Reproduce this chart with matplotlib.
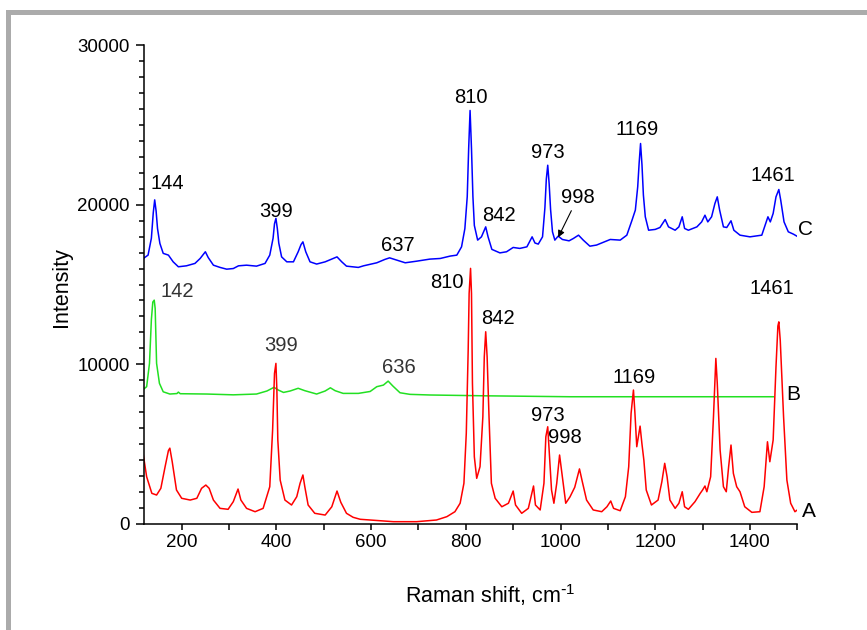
import matplotlib
matplotlib.use('Agg')
import matplotlib.pyplot as plt
from matplotlib.patches import Rectangle
from matplotlib.ticker import MultipleLocator

plt.rcParams['font.family'] = ['Liberation Sans', 'DejaVu Sans']
plt.rcParams['mathtext.default'] = 'regular'

# Spectrum C (blue): Raman shift / intensity
c_shift = [119, 129, 136, 140, 143, 146, 149, 154, 161, 172, 182, 193, 210, 228, 239, 250, 256,
           267, 281, 295, 309, 320, 337, 358, 376, 386, 393, 396, 399, 402, 405, 411, 422, 436,
           446, 452, 456, 462, 471, 485, 503, 517, 528, 538, 548, 573, 584, 612, 629, 639, 654,
           672, 696, 724, 746, 767, 781, 791, 798, 803, 806, 809, 812, 815, 818, 825, 833, 842,
           847, 855, 872, 886, 900, 914, 929, 940, 946, 953, 962, 967, 970, 973, 976, 979, 983,
           988, 995, 1004, 1018, 1027, 1038, 1048, 1062, 1076, 1105, 1126, 1140, 1151, 1158,
           1163, 1166, 1169, 1172, 1175, 1179, 1186, 1200, 1210, 1221, 1228, 1242, 1250, 1257,
           1262, 1270, 1288, 1298, 1305, 1311, 1319, 1326, 1331, 1336, 1344, 1351, 1360, 1366,
           1379, 1400, 1425, 1432, 1438, 1443, 1449, 1455, 1461, 1465, 1472, 1481, 1492, 1499]
c_int = [16630, 16840, 17900, 19500, 20300, 19600, 18500, 17570, 16950, 16840, 16420, 16110,
         16170, 16320, 16630, 17050, 16690, 16210, 16070, 15960, 16000, 16170, 16210, 16150,
         16320, 16840, 17900, 18800, 19140, 18500, 17600, 16730, 16420, 16420, 17050, 17500,
         17670, 17050, 16420, 16280, 16420, 16590, 16730, 16420, 16150, 16070, 16170, 16360,
         16570, 16670, 16530, 16360, 16460, 16590, 16630, 16780, 16840, 17360, 18500, 20500,
         23500, 25900, 23500, 20500, 18700, 17780, 17985, 18610, 17985, 17200, 16980, 17050,
         17320, 17260, 17360, 17985, 17600, 17530, 17985, 19800, 21600, 22470, 21300, 19700,
         18300, 17780, 18030, 17820, 17735, 17880, 18090, 17780, 17400, 17470, 17820, 17780,
         18090, 19030, 19660, 21120, 22600, 23830, 22500, 20600, 19240, 18400, 18450, 18570,
         19070, 18610, 18400, 18610, 19240, 18510, 18400, 18610, 18920, 19340, 18920, 19240,
         20070, 20490, 19660, 18610, 18570, 18990, 18400, 18090, 17985, 18090, 18720, 19240,
         18920, 19450, 20490, 20950, 20280, 18920, 18300, 18150, 18030]

# Spectrum B (green)
b_shift = [119, 126, 132, 136, 139, 142, 144, 147, 153, 161, 175, 190, 193, 197, 253, 309, 358,
           380, 395, 404, 415, 429, 446, 460, 485, 503, 514, 524, 541, 573, 598, 612, 626, 636,
           646, 661, 682, 724, 837, 1020, 1450]
b_int = [8430, 8600, 10060, 12800, 13900, 14020, 13500, 10060, 8810, 8280, 8140, 8170, 8260,
         8160, 8140, 8090, 8140, 8330, 8560, 8390, 8240, 8330, 8500, 8350, 8140, 8330, 8530,
         8350, 8180, 8180, 8300, 8600, 8700, 8950, 8640, 8220, 8120, 8080, 8030, 7970, 7970]

# Spectrum A (red)
a_shift = [119, 126, 137, 147, 156, 165, 172, 175, 180, 189, 200, 218, 232, 242, 251, 258, 267,
           281, 298, 309, 319, 325, 337, 355, 372, 386, 392, 396, 399, 401, 403, 408, 418, 432,
           443, 450, 456, 460, 467, 481, 503, 517, 528, 536, 548, 562, 577, 598, 647, 696, 738,
           760, 777, 788, 796, 801, 805, 807, 810, 812, 814, 818, 823, 830, 836, 839, 842, 845,
           849, 854, 862, 876, 890, 900, 905, 918, 932, 943, 947, 957, 965, 969, 973, 976, 981,
           986, 992, 998, 1003, 1011, 1020, 1030, 1040, 1046, 1055, 1069, 1087, 1098, 1106,
           1112, 1126, 1137, 1144, 1149, 1154, 1157, 1161, 1165, 1168, 1172, 1176, 1181, 1192,
           1206, 1214, 1220, 1225, 1231, 1242, 1250, 1257, 1262, 1270, 1284, 1295, 1300, 1305,
           1309, 1317, 1323, 1328, 1331, 1337, 1344, 1350, 1355, 1360, 1365, 1372, 1379, 1389,
           1404, 1421, 1430, 1437, 1442, 1449, 1455, 1459, 1461, 1464, 1471, 1478, 1486, 1495,
           1500]
a_int = [4320, 2960, 1920, 1815, 2235, 3590, 4600, 4750, 3900, 2130, 1610, 1500, 1610, 2235,
         2440, 2235, 1500, 980, 920, 1400, 2190, 1500, 980, 770, 980, 2335, 5880, 9430, 10060,
         8390, 5260, 2750, 1500, 1190, 1710, 2550, 3070, 2335, 1190, 670, 560, 1080, 2065, 1360,
         670, 420, 295, 250, 145, 145, 250, 460, 770, 1300, 2550, 5680, 10890, 14440, 16010,
         14440, 8810, 4210, 2860, 3590, 6720, 10470, 12040, 10470, 6720, 2550, 1610, 1080, 1300,
         2065, 1190, 670, 980, 2380, 1190, 880, 2550, 5465, 6090, 4630, 2130, 1300, 2550, 4320,
         3170, 1300, 1700, 2300, 3450, 2650, 1500, 880, 770, 1080, 1440, 980, 830, 1710, 3590,
         6930, 8390, 7000, 4840, 5600, 6130, 5000, 4000, 2130, 1190, 1500, 2650, 3800, 2960,
         1500, 980, 1300, 2020, 1080, 920, 1400, 1920, 2130, 2380, 2020, 2960, 6720, 10370,
         8810, 4630, 2335, 2020, 3590, 4945, 3170, 2335, 2020, 1080, 730, 770, 2335, 5150, 3900,
         5260, 9850, 12400, 12660, 11500, 6720, 2750, 1300, 770, 880]

# Peak labels: text, x, y
c_labels = [('144', 169, 21300), ('399', 399, 19550), ('637', 657, 17470), ('810', 810, 26700),
            ('842', 870, 19350), ('973', 973, 23250), ('1169', 1162, 24700), ('1461', 1449, 21800)]
b_labels = [('142', 190, 14550), ('399', 410, 11150), ('636', 658, 9800)]
a_labels = [('810', 761, 15100), ('842', 867, 12900), ('973', 974, 6780), ('998', 1010, 5400),
            ('1169', 1156, 9150), ('1461', 1447, 14720)]

fig = plt.figure(figsize=(8.67, 6.3), dpi=100)
ax = fig.add_axes([143.8 / 867, 1 - 524 / 630, (797.3 - 143.8) / 867, (524 - 45) / 630])

ax.plot(c_shift, c_int, color='#0000ff', lw=1.1)
ax.plot(b_shift, b_int, color='#22e022', lw=1.1)
ax.plot(a_shift, a_int, color='#ff0000', lw=1.1)

for t, x, y in c_labels + a_labels:
    ax.text(x, y, t, ha='center', va='center', fontsize=14.5, color='black')
for t, x, y in b_labels:
    ax.text(x, y, t, ha='center', va='center', fontsize=14.5, color='#333333')

ax.annotate('998', xy=(995, 17950), xytext=(1037, 20470), ha='center', va='center',
            fontsize=14.5, arrowprops=dict(arrowstyle='-|>', color='black', lw=0.8,
                                           mutation_scale=10, shrinkA=1, shrinkB=0))

ax.text(1517, 18470, 'C', ha='center', va='center', fontsize=15, clip_on=False)
ax.text(1492, 8080, 'B', ha='center', va='center', fontsize=15, clip_on=False)
ax.text(1524, 810, 'A', ha='center', va='center', fontsize=15, clip_on=False)

ax.set_xlim(120, 1500)
ax.set_ylim(0, 30000)
ax.spines['top'].set_visible(False)
ax.spines['right'].set_visible(False)
for s in ['left', 'bottom']:
    ax.spines[s].set_linewidth(1.1)

ax.xaxis.set_major_locator(MultipleLocator(200))
ax.xaxis.set_minor_locator(MultipleLocator(100))
ax.yaxis.set_major_locator(MultipleLocator(10000))
ax.yaxis.set_minor_locator(MultipleLocator(1000))
ax.tick_params(axis='both', which='both', direction='out', width=1.1, labelsize=13.5)
ax.tick_params(axis='y', which='major', length=6, pad=4)
ax.tick_params(axis='y', which='minor', length=3.5)
ax.tick_params(axis='x', which='both', length=4)

fig.text(62 / 867, 1 - 287 / 630, 'Intensity', rotation=90, ha='center', va='center', fontsize=15.5)
fig.text(490 / 867, 1 - 595 / 630, r'Raman shift, cm$^{\text{-}1}$', ha='center', va='center',
         fontsize=15.5)

# gray frame on the left and top edges
fig.add_artist(Rectangle((6 / 867, 0), 5 / 867, 620 / 630, transform=fig.transFigure,
                         color='#ababab', lw=0))
fig.add_artist(Rectangle((6 / 867, 1 - 15 / 630), 861 / 867, 5 / 630, transform=fig.transFigure,
                         color='#ababab', lw=0))

fig.savefig('out.png', dpi=100)
